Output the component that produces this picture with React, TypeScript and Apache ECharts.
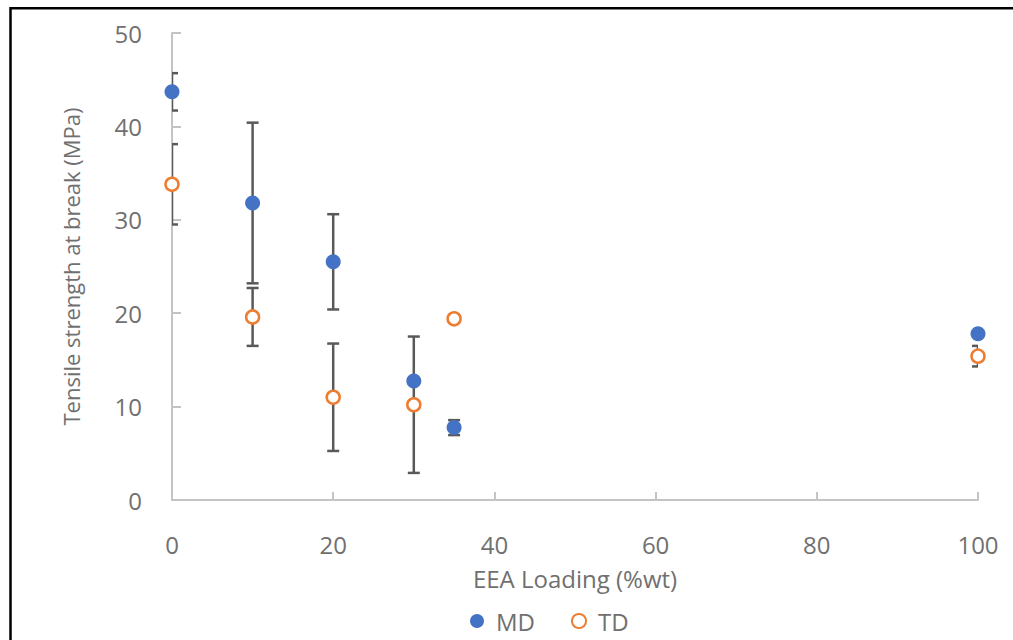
import React, { useEffect, useRef } from "react";
import * as echarts from "echarts";

// EEA loading (%wt)
const loadings = [0, 10, 20, 30, 35, 100];
// Tensile strength at break, machine direction (MPa) and its standard deviation
const mdStrength = [43.7, 31.8, 25.5, 12.75, 7.75, 17.8];
const mdDeviation = [2.0, 8.6, 5.1, 0.3, 0.8, 0.2];
// Tensile strength at break, transverse direction (MPa) and its standard deviation
const tdStrength = [33.8, 19.6, 11.0, 10.2, 19.4, 15.4];
const tdDeviation = [4.3, 3.1, 5.75, 7.3, 0.4, 1.1];

const seriesNames = ["MD", "TD"];
const xAxisTitle = "EEA Loading (%wt)";
const yAxisTitle = "Tensile strength at break (MPa)";

const FONT = "'Open Sans', 'Noto Sans', sans-serif";
const TEXT = "#707070";
const AXIS = "#c4c4c4";
const BAR = "#595959";

const errorRows = (values: number[], dev: number[]) =>
  loadings.map((x, i) => [x, values[i] - dev[i], values[i] + dev[i]]);

const renderErrorBar = (_params: any, api: any) => {
  const x = api.value(0);
  const lo = api.coord([x, api.value(1)]);
  const hi = api.coord([x, api.value(2)]);
  const hw = 6;
  const style = { stroke: BAR, lineWidth: 2.5 };
  return {
    type: "group",
    children: [
      { type: "line", shape: { x1: hi[0], y1: hi[1], x2: lo[0], y2: lo[1] }, style },
      { type: "line", shape: { x1: hi[0] - hw, y1: hi[1], x2: hi[0] + hw, y2: hi[1] }, style },
      { type: "line", shape: { x1: lo[0] - hw, y1: lo[1], x2: lo[0] + hw, y2: lo[1] }, style },
    ],
  };
};

export default function App() {
  const ref = useRef<HTMLDivElement>(null);

  useEffect(() => {
    if (!ref.current) return;
    const chart = echarts.init(ref.current, null, { renderer: "svg" });
    chart.setOption({
      animation: false,
      backgroundColor: "#ffffff",
      textStyle: { fontFamily: FONT },
      graphic: [
        {
          type: "rect",
          shape: { x: 10.5, y: 8.3, width: 1020, height: 650 },
          style: { fill: "none", stroke: "#000", lineWidth: 2.5 },
          silent: true,
        },
      ],
      grid: { left: 172, right: 35, top: 33, bottom: 140 },
      legend: {
        data: seriesNames,
        left: 465,
        top: 604,
        itemWidth: 28,
        itemHeight: 14,
        itemGap: 36,
        textStyle: { fontFamily: FONT, fontSize: 24, color: TEXT },
      },
      xAxis: {
        type: "value",
        min: 0,
        max: 100,
        interval: 20,
        name: xAxisTitle,
        nameLocation: "middle",
        nameGap: 66,
        nameTextStyle: { fontFamily: FONT, fontSize: 24, color: TEXT },
        axisLine: { show: true, lineStyle: { color: AXIS, width: 2 } },
        axisTick: { show: true, inside: true, length: 8, lineStyle: { color: AXIS, width: 2 } },
        axisLabel: { margin: 32, fontFamily: FONT, fontSize: 24, color: TEXT },
        splitLine: { show: false },
      },
      yAxis: {
        type: "value",
        min: 0,
        max: 50,
        interval: 10,
        name: yAxisTitle,
        nameLocation: "middle",
        nameGap: 90,
        nameTextStyle: { fontFamily: FONT, fontSize: 22, color: TEXT },
        axisLine: { show: true, lineStyle: { color: AXIS, width: 2 } },
        axisTick: { show: true, inside: true, length: 9, lineStyle: { color: AXIS, width: 2 } },
        axisLabel: { margin: 30, fontFamily: FONT, fontSize: 24, color: TEXT },
        splitLine: { show: false },
      },
      series: [
        {
          name: "MD error",
          type: "custom",
          clip: true,
          z: 2,
          renderItem: renderErrorBar,
          data: errorRows(mdStrength, mdDeviation),
        },
        {
          name: "TD error",
          type: "custom",
          clip: true,
          z: 2,
          renderItem: renderErrorBar,
          data: errorRows(tdStrength, tdDeviation),
        },
        {
          name: "MD",
          type: "scatter",
          z: 3,
          symbol: "circle",
          symbolSize: 15,
          itemStyle: { color: "#4472C4", opacity: 1 },
          data: loadings.map((x, i) => [x, mdStrength[i]]),
        },
        {
          name: "TD",
          type: "scatter",
          z: 3,
          symbol: "circle",
          symbolSize: 13,
          itemStyle: { color: "#ffffff", borderColor: "#ED7D31", borderWidth: 2.5, opacity: 1 },
          data: loadings.map((x, i) => [x, tdStrength[i]]),
        },
      ],
    });
    return () => chart.dispose();
  }, []);

  return (
    <div
      ref={ref}
      style={{ position: "fixed", left: 0, top: 0, width: 1013, height: 640 }}
    />
  );
}
